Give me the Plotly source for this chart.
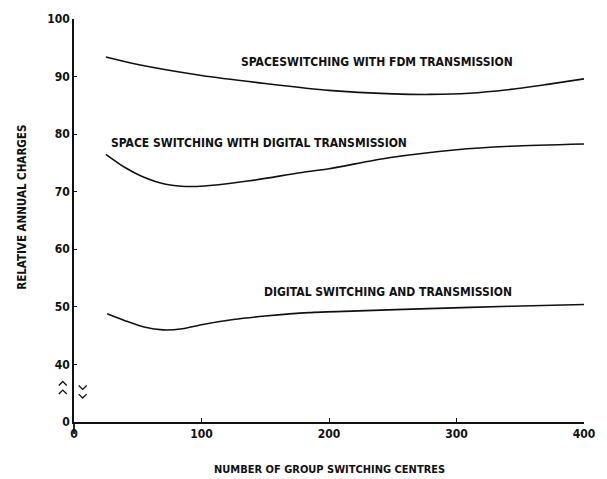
import plotly.graph_objects as go

# Relative annual charges against number of group switching centres
centres_fdm = [25, 50, 100, 150, 200, 250, 280, 310, 340, 370, 400]
charges_fdm = [93.4, 92.1, 90.2, 88.8, 87.6, 87.0, 86.9, 87.1, 87.7, 88.6, 89.6]

centres_space_digital = [25, 40, 53, 72, 96, 138, 177, 200, 247, 300, 343, 400]
charges_space_digital = [76.5, 74.2, 72.7, 71.3, 70.9, 71.9, 73.3, 74.0, 75.9, 77.3, 77.9, 78.3]

centres_digital = [26, 40, 55, 70, 85, 100, 125, 150, 184, 223, 278, 343, 400]
charges_digital = [48.8, 47.6, 46.5, 46.0, 46.2, 46.9, 47.8, 48.4, 49.0, 49.3, 49.7, 50.1, 50.4]

series_names = [
    "SPACESWITCHING WITH FDM TRANSMISSION",
    "SPACE SWITCHING WITH DIGITAL TRANSMISSION",
    "DIGITAL SWITCHING AND TRANSMISSION",
]
# label anchor points (x, y) in data units
label_x = [238, 145, 246]
label_y = [92.6, 78.5, 52.5]

x_ticks = [0, 100, 200, 300, 400]
y_ticks = [40, 50, 60, 70, 80, 90, 100]
# the value axis is broken below 40; zero is drawn one step under it
ZERO_POS = 30

FONT = "DejaVu Sans Condensed, Liberation Sans Narrow, Arial Narrow, sans-serif"
INK = "#111111"

fig = go.Figure()
for xs, ys in [
    (centres_fdm, charges_fdm),
    (centres_space_digital, charges_space_digital),
    (centres_digital, charges_digital),
]:
    fig.add_trace(
        go.Scatter(
            x=xs, y=ys, mode="lines",
            line=dict(color=INK, width=1.6, shape="spline", smoothing=0.8),
            showlegend=False, hoverinfo="skip",
        )
    )

for name, lx, ly in zip(series_names, label_x, label_y):
    fig.add_annotation(
        x=lx, y=ly, text=name, showarrow=False,
        font=dict(family=FONT, size=12, color=INK, weight="bold"),
    )

# axis titles
fig.add_annotation(
    xref="paper", yref="paper", x=0.5, y=-0.118, yanchor="middle",
    text="NUMBER OF GROUP SWITCHING CENTRES", showarrow=False,
    font=dict(family=FONT, size=11, color=INK, weight="bold"),
)
fig.add_annotation(
    xref="paper", yref="paper", x=-0.102, y=0.534, xanchor="center",
    text="RELATIVE ANNUAL CHARGES", textangle=-90, showarrow=False,
    font=dict(family=FONT, size=11.5, color=INK, weight="bold"),
)

# break marks on the value axis
px_x = 1 / 512.0   # paper units per pixel horizontally
px_y = 70 / 405.0  # data units per pixel vertically


def chevron(cx, cy, up):
    d = 2 if up else -2
    x0, x1, x2 = cx - 4 * px_x, cx, cx + 4 * px_x
    y0, y1 = cy - d * px_y, cy + d * px_y
    return f"M {x0},{y0} L {x1},{y1} L {x2},{y0}"


for cx, cy, up in [(-0.022, 36.7, True), (-0.022, 35.2, True),
                   (0.017, 36.0, False), (0.017, 34.5, False)]:
    fig.add_shape(
        type="path", xref="paper", yref="y", path=chevron(cx, cy, up),
        line=dict(color=INK, width=1.3),
    )

# value axis runs on a little past the baseline
fig.add_shape(
    type="line", xref="paper", yref="paper", x0=0, x1=0, y0=0, y1=-0.03,
    line=dict(color=INK, width=1.8),
)

fig.update_xaxes(
    range=[0, 400], tickvals=x_ticks, ticktext=[str(v) for v in x_ticks],
    showline=True, linecolor=INK, linewidth=1.6, ticks="inside", ticklen=4,
    tickcolor=INK, tickwidth=1.3, showgrid=False, zeroline=False,
    tickfont=dict(family=FONT, size=12, color=INK, weight="bold"),
)
fig.update_yaxes(
    range=[ZERO_POS, 100],
    tickvals=[ZERO_POS] + y_ticks,
    ticktext=["0"] + [str(v) for v in y_ticks],
    showline=True, linecolor=INK, linewidth=1.8, ticks="inside", ticklen=3,
    tickcolor=INK, tickwidth=1.3, showgrid=False, zeroline=False,
    tickfont=dict(family=FONT, size=12, color=INK, weight="bold"),
)

fig.update_layout(
    width=607, height=479,
    margin=dict(l=74, r=21, t=17, b=57),
    paper_bgcolor="white", plot_bgcolor="white",
)

fig.write_html("out.html")
